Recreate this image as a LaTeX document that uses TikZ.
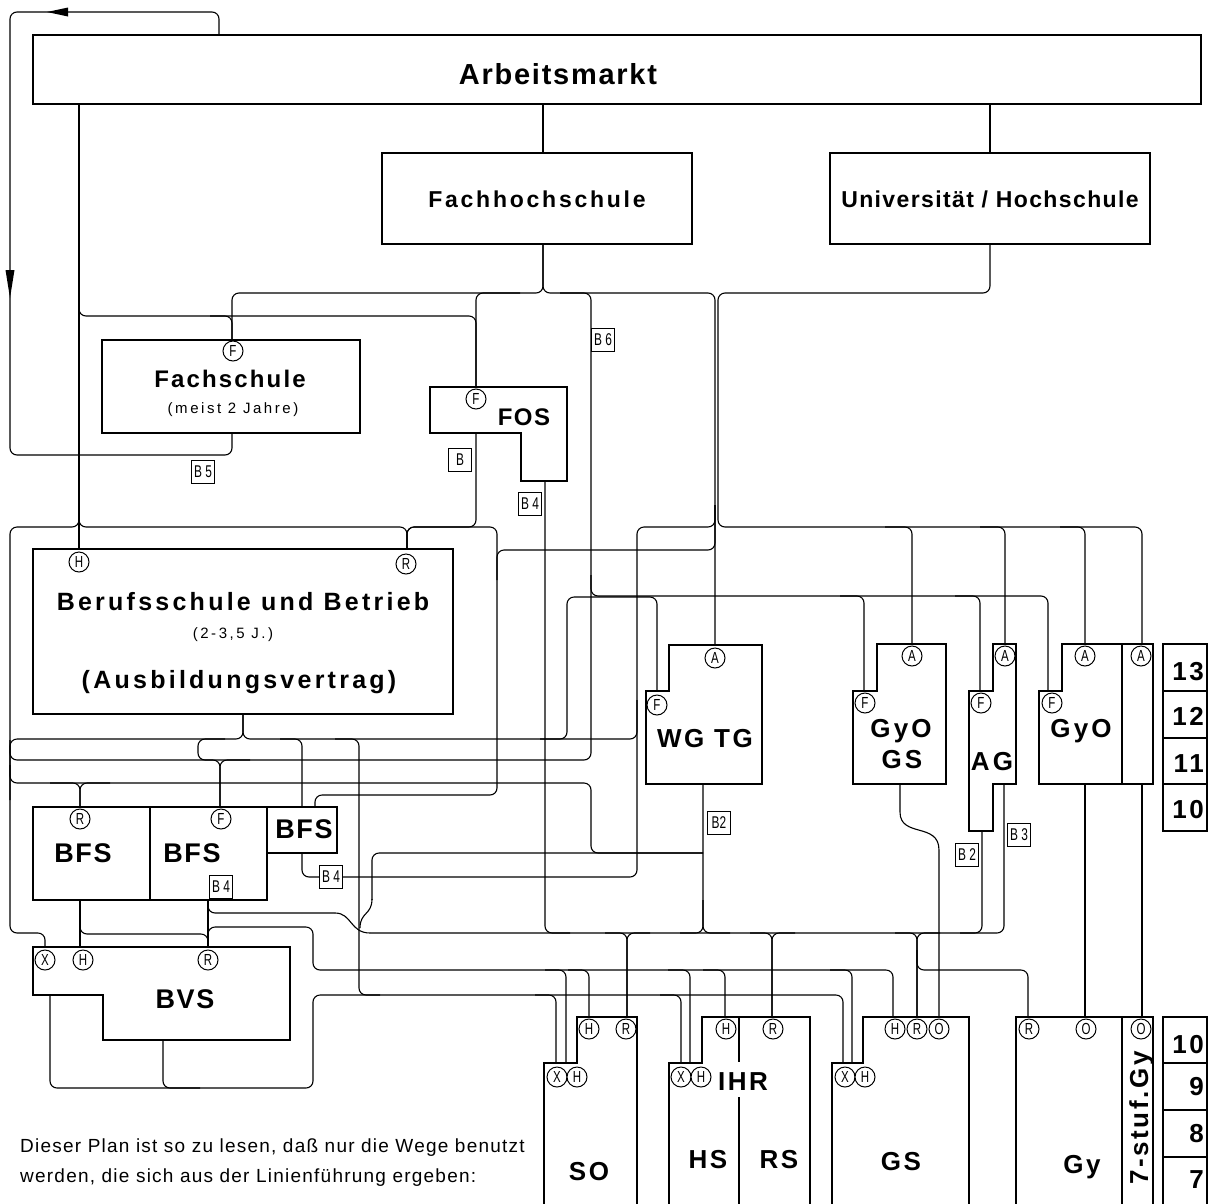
\documentclass[tikz,border=0pt]{standalone}
\usepackage{fontspec}
\setmainfont{Liberation Sans}
\newcommand{\fsz}[1]{\fontsize{#1}{#1}\selectfont}
\newcommand{\lsp}[1]{\addfontfeature{LetterSpace=#1}}
\begin{document}
\begin{tikzpicture}[x=1pt,y=-1pt,
 ln/.style={line width=1.1pt, rounded corners=7pt},
 cv/.style={line width=1.1pt},
 bx/.style={draw, line width=2.6pt, fill=white, line join=miter},
 gr/.style={draw, line width=1.5pt},
 cc/.style={circle, draw, line width=1pt, fill=white, minimum size=20pt, inner sep=0pt, font=\fsz{16}},
 bl/.style={draw, line width=0.9pt, fill=white, minimum width=23pt, minimum height=23pt, inner sep=0pt, font=\fsz{17}},
 bt/.style={font=\bfseries\fsz{#1}, inner sep=0pt, anchor=base},
 rt/.style={font=\fsz{#1}, inner sep=0pt, anchor=base}]
\fill[white] (0,0) rectangle (1211,1203);
\useasboundingbox (0,0) rectangle (1211,1203);
\clip (0,0) rectangle (1211,1203);

% ---------- connectors ----------
% feedback loop Arbeitsmarkt -> Fachschule
\draw[ln] (219,35) -- (219,12) -- (10,12) -- (10,455) -- (232,455) -- (232,433);
\fill (47,12) -- (68,7.5) -- (68,16.5) -- cycle;
\fill (10,298) -- (5.5,270) -- (14.5,270) -- cycle;
% Arbeitsmarkt down
\draw[ln] (79,104) -- (79,549);
\draw[ln] (79,290) -- (79,316) -- (476,316) -- (476,387);
\draw[ln] (210,316) -- (232,316) -- (232,340);
\draw[ln] (543,104) -- (543,153);
\draw[ln] (990,104) -- (990,153);
% Fachhochschule / Universitaet
\draw[ln] (543,244) -- (543,293) -- (232,293) -- (232,340);
\draw[ln] (543,244) -- (543,293) -- (715,293) -- (715,645);
\draw[ln] (520,293) -- (476,293) -- (476,387);
\draw[ln] (560,293) -- (591,293) -- (591,760) -- (10,760) -- (10,740);
\draw[ln] (591,575) -- (591,596) -- (1048,596) -- (1048,691);
\draw[ln] (840,596) -- (864,596) -- (864,691);
\draw[ln] (955,596) -- (980,596) -- (980,691);
\draw[ln] (990,244) -- (990,293) -- (718,293) -- (718,527) -- (1142,527) -- (1142,644);
\draw[ln] (885,527) -- (912,527) -- (912,644);
\draw[ln] (980,527) -- (1005,527) -- (1005,644);
\draw[ln] (1060,527) -- (1085,527) -- (1085,644);
% FOS bottom, Berufsschule inputs
\draw[ln] (476,433) -- (476,527) -- (407,527) -- (407,549);
\draw[ln] (79,505) -- (79,527) -- (10,527) -- (10,933) -- (45,933) -- (45,947);
\draw[ln] (79,505) -- (79,527) -- (407,527) -- (407,549);
\draw[ln] (407,549) -- (407,527) -- (497,527) -- (497,795) -- (315,795) -- (315,807);
\draw[ln] (715,505) -- (715,550) -- (497,550) -- (497,580);
\draw[ln] (715,505) -- (715,527) -- (637,527) -- (637,877) -- (302,877) -- (302,853);
% Berufsschule bottom bus
\draw[ln] (243,714) -- (243,739) -- (10,739) -- (10,800);
\draw[ln] (243,714) -- (243,739) -- (637,739) -- (637,700);
\draw[ln] (280,739) -- (302,739) -- (302,807);
\draw[ln] (335,739) -- (359,739) -- (359,995) -- (843,995) -- (843,1063);
\draw[ln] (657,691) -- (657,597) -- (567,597) -- (567,739) -- (540,739);
\draw[ln] (220,807) -- (220,760) -- (198,760) -- (198,739) -- (225,739);
\draw[ln] (220,807) -- (220,760) -- (250,760);
\draw[ln] (10,765) -- (10,783) -- (591,783) -- (591,853) -- (703,853);
\draw[ln] (80,807) -- (80,783) -- (50,783);
\draw[ln] (80,807) -- (80,783) -- (110,783);
% R bus
\draw[ln] (208,895) -- (208,913) -- (335,913);
\draw[cv] (335,913) .. controls (352,913) and (350,933) .. (370,933);
\draw[ln] (370,933) -- (1004,933) -- (1004,784);
\draw[ln] (545,481) -- (545,933) -- (570,933);
\draw[ln] (605,933) -- (627,933) -- (627,1017);
\draw[ln] (650,933) -- (627,933) -- (627,1017);
\draw[ln] (703,784) -- (703,933) -- (680,933);
\draw[ln] (703,900) -- (703,933) -- (730,933);
\draw[ln] (750,933) -- (772,933) -- (772,1017);
\draw[ln] (795,933) -- (772,933) -- (772,1017);
\draw[ln] (895,933) -- (917,933) -- (917,1017);
\draw[ln] (940,933) -- (917,933) -- (917,1017);
\draw[ln] (982,831) -- (982,933) -- (960,933);
\draw[ln] (917,950) -- (917,970) -- (1028,970) -- (1028,1017);
\draw[ln] (703,853) -- (372,853) -- (372,900);
\draw[cv] (372,899) .. controls (372,915) and (360,912) .. (360,928);
% H bus
\draw[ln] (208,945) -- (208,927) -- (313,927) -- (313,970) -- (893,970) -- (893,1017);
\draw[ln] (208,900) -- (208,947);
\draw[ln] (80,900) -- (80,947);
\draw[ln] (80,915) -- (80,934) -- (208,934) -- (208,947);
\draw[ln] (545,970) -- (566,970) -- (566,1063);
\draw[ln] (568,970) -- (589,970) -- (589,1017);
\draw[ln] (668,970) -- (690,970) -- (690,1063);
\draw[ln] (703,970) -- (725,970) -- (725,1017);
\draw[ln] (830,970) -- (852,970) -- (852,1063);
% X bus
\draw[ln] (535,995) -- (556,995) -- (556,1063);
\draw[ln] (660,995) -- (681,995) -- (681,1063);
\draw[ln] (50,995) -- (50,1088) -- (313,1088) -- (313,995) -- (380,995);
\draw[ln] (163,1040) -- (163,1088) -- (200,1088);
% Gymnasium lines
\draw[cv] (900,784) -- (900,812) .. controls (900,838) and (939,822) .. (939,850) -- (939,1017);
\draw[ln] (1085,784) -- (1085,1017);
\draw[ln] (1142,784) -- (1142,1017);

% ---------- boxes ----------
\path[bx] (33,35) rectangle (1201,104);
\path[bx] (382,153) rectangle (692,244);
\path[bx] (830,153) rectangle (1150,244);
\path[bx] (102,340) rectangle (360,433);
\path[bx] (430,387) -- (567,387) -- (567,481) -- (521,481) -- (521,433) -- (430,433) -- cycle;
\path[bx] (33,549) rectangle (453,714);
\path[bx] (33,807) rectangle (150,900);
\path[bx] (150,807) rectangle (267,900);
\path[bx] (267,807) rectangle (337,853);
\path[bx] (33,947) -- (290,947) -- (290,1040) -- (103,1040) -- (103,995) -- (33,995) -- cycle;
\path[bx] (669,645) -- (762,645) -- (762,784) -- (646,784) -- (646,691) -- (669,691) -- cycle;
\path[bx] (877,644) -- (946,644) -- (946,784) -- (853,784) -- (853,691) -- (877,691) -- cycle;
\path[bx] (993,644) -- (1016,644) -- (1016,784) -- (993,784) -- (993,831) -- (969,831) -- (969,691) -- (993,691) -- cycle;
\path[bx] (1062,644) -- (1153,644) -- (1153,784) -- (1039,784) -- (1039,691) -- (1062,691) -- cycle;
\draw[line width=2.6pt] (1122,644) -- (1122,784);
\path[bx] (577,1017) -- (637,1017) -- (637,1215) -- (544,1215) -- (544,1063) -- (577,1063) -- cycle;
\path[bx] (702,1017) -- (810,1017) -- (810,1215) -- (669,1215) -- (669,1063) -- (702,1063) -- cycle;
\draw[line width=2.6pt] (739,1017) -- (739,1062) (739,1097) -- (739,1215);
\path[bx] (863,1017) -- (969,1017) -- (969,1215) -- (832,1215) -- (832,1063) -- (863,1063) -- cycle;
\path[bx] (1016,1017) rectangle (1153,1215);
\draw[line width=2.6pt] (1122,1017) -- (1122,1215);
% grade columns
\draw[gr] (1163,644) rectangle (1207,831);
\draw[gr] (1163,691) -- (1207,691) (1163,738) -- (1207,738) (1163,784) -- (1207,784);
\draw[gr] (1163,1017) rectangle (1207,1215);
\draw[gr] (1163,1063) -- (1207,1063) (1163,1110) -- (1207,1110) (1163,1157) -- (1207,1157);

% ---------- texts ----------
\node[bt=29] (tam) at (558,84) {\lsp{6}Arbeitsmarkt};
\node[bt=23] (tfh) at (537,207) {\lsp{12}Fachhochschule};
\node[bt=23] (tun) at (990,207) {\lsp{6}Universität / Hochschule};
\node[bt=24] (tfs) at (230,387) {\lsp{9}Fachschule};
\node[rt=15] (tfs2) at (233,413) {\lsp{17}(meist 2 Jahre)};
\node[bt=24] (tfos) at (524,425) {\lsp{6}FOS};
\node[bt=25] (tbs) at (243,610) {\lsp{13}Berufsschule und Betrieb};
\node[rt=15] (tbs2) at (233,638) {\lsp{17}(2-3,5 J.)};
\node[bt=25] (tbs3) at (239,688) {\lsp{13}(Ausbildungsvertrag)};
\node[bt=27] (tbfs1) at (83,862) {\lsp{6}BFS};
\node[bt=27] (tbfs2) at (192,862) {\lsp{6}BFS};
\node[bt=27] (tbfs3) at (304,838) {\lsp{6}BFS};
\node[bt=27] (tbvs) at (185,1008) {\lsp{6}BVS};
\node[bt=26] (twg) at (705,747) {\lsp{10}WG TG};
\node[bt=26] (tgyo1) at (901,737) {\lsp{12}GyO};
\node[bt=26] (tgs1) at (902,768) {\lsp{12}GS};
\node[bt=26] (tag) at (992,770) {\lsp{12}AG};
\node[bt=26] (tgyo2) at (1081,737) {\lsp{12}GyO};
\node[bt=26] (tso) at (589,1180) {\lsp{10}SO};
\node[bt=26] (tihr) at (743,1090) {\lsp{10}IHR};
\node[bt=26] (ths) at (708,1168) {\lsp{10}HS};
\node[bt=26] (trs) at (779,1168) {\lsp{10}RS};
\node[bt=26] (tgs2) at (901,1170) {\lsp{10}GS};
\node[bt=26] (tgy) at (1082,1173) {\lsp{10}Gy};
\node[bt=26, rotate=90] (t7) at (1148,1118) {\lsp{10}7-stuf.Gy};
\foreach \y/\t [count=\i] in {680/13, 725/12, 772/11, 818/10, 1053/10, 1095/9, 1142/8, 1188/7}
  \node[bt=26, anchor=base east] (g\i) at (1204,\y) {\lsp{10}\t};
% circles
\foreach \x/\y/\t [count=\i] in {233/351/F, 476/399/F, 79/562/H, 406/564/R, 80/819/R, 221/819/F, 45/960/X, 83/960/H, 208/960/R, 715/658/A, 657/705/F, 912/656/A, 865/703/F, 1005/656/A, 981/703/F, 1085/656/A, 1141/656/A, 1052/703/F, 589/1029/H, 626/1029/R, 557/1077/X, 577/1077/H, 726/1029/H, 773/1029/R, 681/1077/X, 701/1077/H, 895/1029/H, 917/1029/R, 939/1029/O, 845/1077/X, 865/1077/H, 1029/1029/R, 1086/1029/O, 1141/1029/O}
  \node[cc] (c\i) at (\x,\y) {\scalebox{0.72}[1]{\t}};
% B labels
\foreach \x/\y/\t [count=\i] in {203/472/B 5, 460/460/B, 603/340/B 6, 530/504/B 4, 719/823/B2, 967/855/B 2, 1019/835/B 3, 331/877/B 4, 221/887/B 4}
  \node[bl] (b\i) at (\x,\y) {\scalebox{0.7}[1]{\t}};
% note
\node[rt=19, anchor=base west] (n1) at (20,1152) {\lsp{6.5}Dieser Plan ist so zu lesen, daß nur die Wege benutzt};
\node[rt=19, anchor=base west] (n2) at (20,1182) {\lsp{6.5}werden, die sich aus der Linienführung ergeben:};
\end{tikzpicture}
\end{document}
